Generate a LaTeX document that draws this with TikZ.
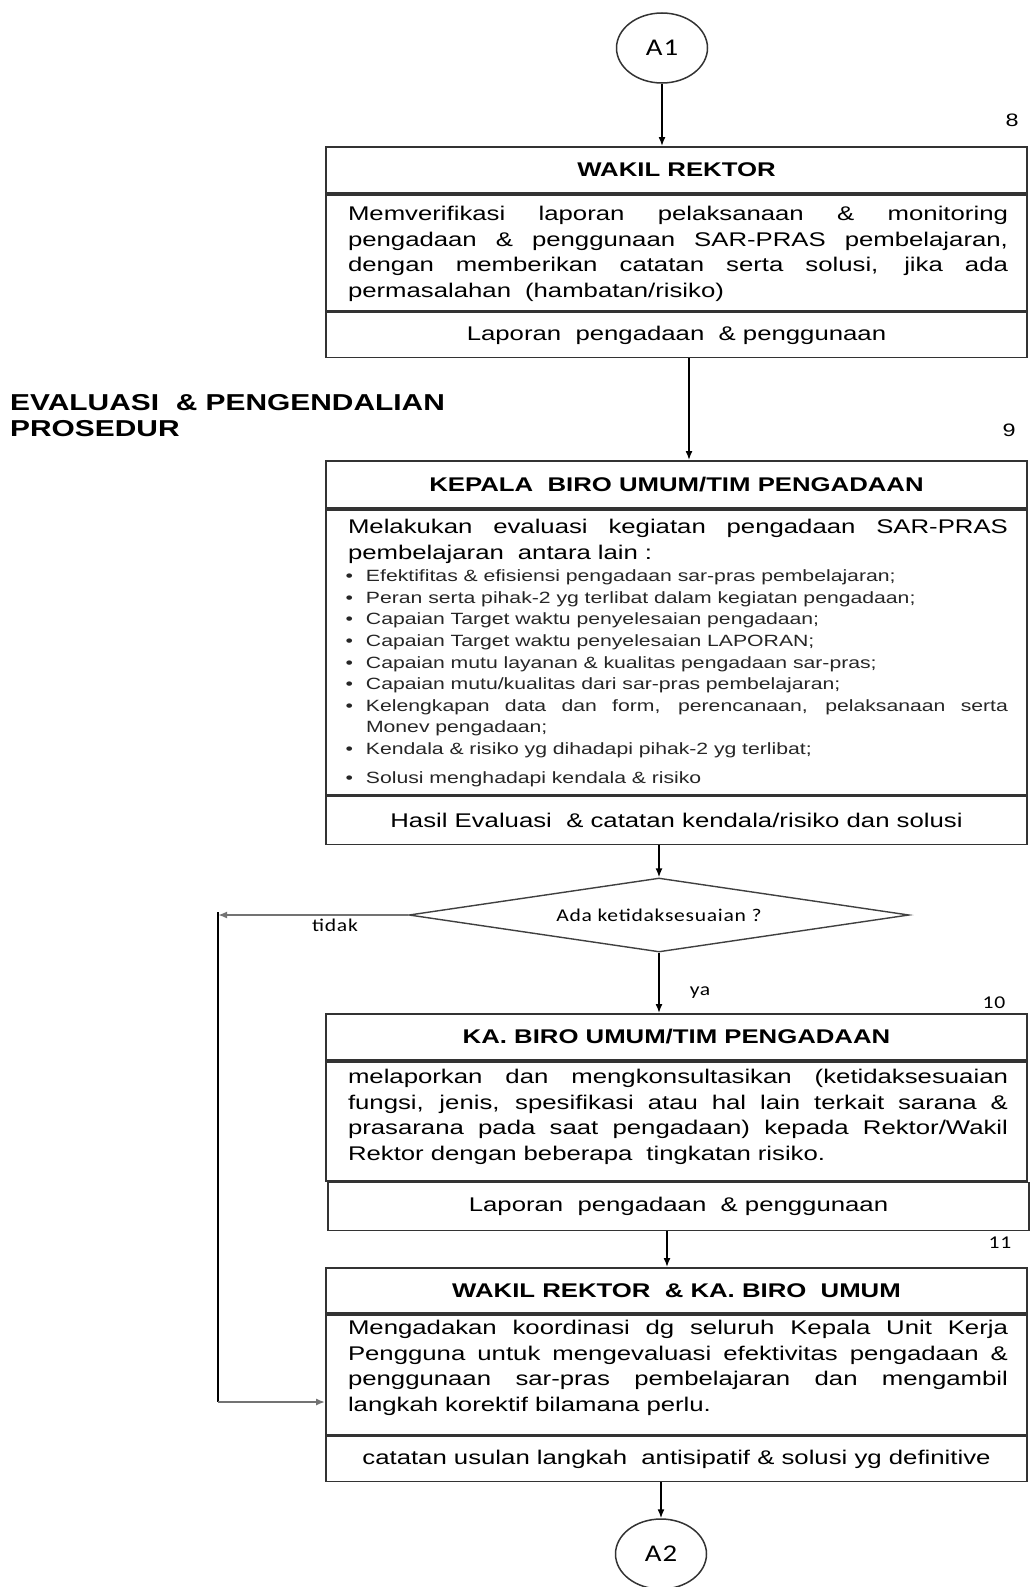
\documentclass[tikz,border=0pt]{standalone}
\usepackage{fontspec}
\setmainfont{Liberation Sans}[FakeStretch=1.3]
\newfontfamily\carl{Carlito}[FakeStretch=1.2, LetterSpace=4]
\usetikzlibrary{shapes.geometric,arrows.meta}
\hyphenpenalty=10000
\exhyphenpenalty=10000
\newcommand\bul{\par\fontsize{16.3}{21.6}\selectfont\color{black!85}\spaceskip=5.8pt plus 30pt minus 1pt\relax\noindent\hangindent=18pt\hangafter=1\hspace*{18pt}\llap{\textbullet\hspace{13pt}}\ignorespaces}
\newcommand\bodysetup{\spaceskip=7pt plus 30pt minus 1pt\relax\tolerance=10000\relax}
\begin{document}
\begin{tikzpicture}[x=1pt,y=-1pt,
  frame/.style={draw=black!80, line width=1.8pt, rectangle, minimum width=701pt, inner sep=0pt, anchor=north},
  hdr/.style={frame, font=\fontsize{19.8}{24}\selectfont\bfseries},
  ftr/.style={frame, font=\fontsize{19.8}{24}\selectfont},
  bodytxt/.style={text width=660pt, align=justify, inner sep=0pt, font=\fontsize{19.8}{25.6}\selectfont\bodysetup},
  arr/.style={-{Latex[length=9pt,width=7pt]}, line width=1.5pt},
  greyline/.style={draw=black!55, line width=2.6pt},
  ell/.style={ellipse, draw=black!80, line width=1.5pt, minimum width=91pt, minimum height=70pt, inner sep=0pt, font=\carl\fontsize{24}{24}\selectfont},
  dia/.style={diamond, draw=black!75, line width=1.4pt, minimum width=500pt, minimum height=74pt, aspect=6.75, inner sep=0pt, font=\carl\fontsize{18}{18}\selectfont},
  lbl/.style={inner sep=0pt, font=\carl\fontsize{18}{18}\selectfont},
  num/.style={inner sep=0pt, font=\fontsize{18}{18}\selectfont}
]
\useasboundingbox (0,0) rectangle (1029,1587);
\fill[white] (0,0) rectangle (1029,1587);

\node[ell] (A1) at (662,48) {A1};
\node[num] (n8) at (1012,120) {8};

% box 1
\node[hdr, minimum height=46pt] (b1h) at (676.5,146) {WAKIL REKTOR};
\node[ftr, minimum height=116pt] (b1b) at (b1h.south) {};
\node[ftr, minimum height=45pt] (b1f) at (b1b.south) {Laporan\ \ pengadaan \ \& penggunaan};
\node[bodytxt] (t1) at (678,254) {Memverifikasi laporan pelaksanaan \& monitoring \linebreak pengadaan \& penggunaan SAR-PRAS pembelajaran, \linebreak dengan memberikan catatan serta solusi, jika ada \linebreak permasalahan\ \ (hambatan/risiko)};

% section title
\node[anchor=west, align=left, inner sep=0pt, font=\fontsize{23}{26}\selectfont\bfseries] (sec) at (10,416) {EVALUASI \ \& PENGENDALIAN\\PROSEDUR};
\node[num] (n9) at (1009,430) {9};

% box 2
\node[hdr, minimum height=47pt] (b2h) at (676.5,460) {KEPALA\ \ BIRO UMUM/TIM PENGADAAN};
\node[ftr, minimum height=285pt] (b2b) at (b2h.south) {};
\node[ftr, minimum height=48pt] (b2f) at (b2b.south) {Hasil Evaluasi\ \ \& catatan kendala/risiko dan solusi};
\node[bodytxt] (t2) at (678,653) {Melakukan evaluasi kegiatan pengadaan SAR-PRAS \linebreak pembelajaran\ \ antara lain :\par\vspace{0.5pt}%
\bul Efektifitas \& efisiensi pengadaan sar-pras pembelajaran;%
\bul Peran serta pihak-2 yg terlibat dalam kegiatan pengadaan;%
\bul Capaian Target waktu penyelesaian pengadaan;%
\bul Capaian Target waktu penyelesaian LAPORAN;%
\bul Capaian mutu layanan \& kualitas pengadaan sar-pras;%
\bul Capaian mutu/kualitas dari sar-pras pembelajaran;%
\bul Kelengkapan data dan form, perencanaan, pelaksanaan serta \linebreak Monev pengadaan;%
\bul Kendala \& risiko yg dihadapi pihak-2 yg terlibat;\par\vspace{3pt}%
\bul Solusi menghadapi kendala \& risiko};

% decision
\node[dia] (d) at (659,915) {Ada ketidaksesuaian ?};
\node[lbl] (tidak) at (335,925) {tidak};
\node[lbl] (ya) at (700,993) {ya};
\node[lbl] (n10) at (994,1003) {10};

% box 3
\node[hdr, minimum height=46pt] (b3h) at (676.5,1013) {KA. BIRO UMUM/TIM PENGADAAN};
\node[ftr, minimum height=119pt] (b3b) at (b3h.south) {};
\node[ftr, minimum height=48pt, xshift=2pt] (b3f) at (b3b.south) {Laporan\ \ pengadaan \ \& penggunaan};
\node[bodytxt] (t3) at (678,1117) {melaporkan dan mengkonsultasikan (ketidaksesuaian \linebreak fungsi, jenis, spesifikasi atau hal lain terkait sarana \& \linebreak prasarana pada saat pengadaan) kepada Rektor/Wakil \linebreak Rektor dengan beberapa\ \ tingkatan risiko.};
\node[lbl] (n11) at (1000,1243) {11};

% box 4
\node[hdr, minimum height=45pt] (b4h) at (676.5,1267) {WAKIL REKTOR\ \ \& KA. BIRO\ \ UMUM};
\node[ftr, minimum height=120pt] (b4b) at (b4h.south) {};
\node[ftr, minimum height=45pt] (b4f) at (b4b.south) {catatan usulan langkah\ \ antisipatif \& solusi yg definitive};
\node[bodytxt] (t4) at (678,1368) {Mengadakan koordinasi dg seluruh Kepala Unit Kerja \linebreak Pengguna untuk mengevaluasi efektivitas pengadaan \& \linebreak penggunaan sar-pras pembelajaran dan mengambil \linebreak langkah korektif bilamana perlu.};

\node[ell] (A2) at (661,1554) {A2};

% connectors
\draw[arr] (A1.south) -- (A1.south |- b1h.north);
\draw[arr] ([xshift=12.5pt]b1f.south) -- ([xshift=12.5pt]b2h.north);
\draw[arr] (b2f.south -| d.north) -- (d.north);
\draw[arr] (d.south) -- (d.south |- b3h.north);
\draw[arr] ([xshift=-11.5pt]b3f.south) -- ([xshift=-11.5pt]b3f.south |- b4h.north);
\draw[arr] (b4f.south -| A2.north) -- (A2.north);

\coordinate (L1) at (218,915);
\coordinate (L2) at (218,1402);
\draw[arr, greyline] (d.west) -- (L1);
\draw[line width=2pt] ([yshift=3pt]L1) -- (L2);
\draw[arr, greyline] (L2) -- (L2 -| b4b.west);
\end{tikzpicture}
\end{document}
